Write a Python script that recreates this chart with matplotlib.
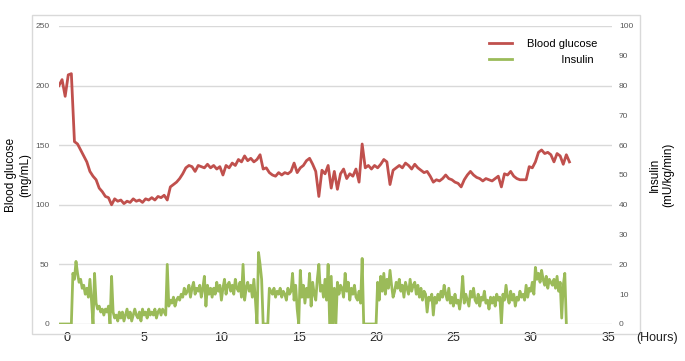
import matplotlib
matplotlib.use("Agg")
from matplotlib import pyplot as plt
from matplotlib.patches import Rectangle
import numpy as np

plt.rcParams["font.family"] = ["Liberation Sans", "DejaVu Sans"]

# blood glucose (mg/mL), one reading every 0.2 h starting at -0.5 h
glucose = [
    200, 205, 191, 209, 210, 153, 151, 146, 141, 136,
    128, 124, 121, 114, 111, 107, 106, 100, 105, 103,
    104, 101, 103, 102, 105, 103, 104, 102, 105, 104,
    106, 104, 107, 106, 108, 104, 115, 117, 119, 122,
    126, 131, 133, 132, 128, 133, 132, 131, 134, 131,
    133, 130, 132, 125, 133, 131, 135, 133, 138, 136,
    141, 137, 139, 136, 138, 142, 130, 131, 127, 125,
    124, 127, 125, 127, 126, 128, 135, 127, 131, 133,
    137, 139, 134, 128, 107, 129, 126, 133, 114, 128,
    113, 126, 130, 122, 126, 124, 130, 119, 151, 131,
    133, 130, 133, 131, 134, 138, 136, 117, 129, 131,
    133, 131, 135, 133, 130, 134, 131, 129, 127, 128,
    124, 119, 121, 120, 122, 125, 122, 121, 119, 118,
    115, 121, 125, 128, 125, 123, 122, 120, 122, 121,
    120, 122, 124, 115, 126, 125, 128, 124, 122, 121,
    121, 121, 132, 131, 136, 144, 146, 143, 144, 142,
    136, 143, 141, 134, 142, 136,
]

# insulin (mU/kg/min), one reading every 0.1 h starting at -0.5 h
insulin = [
    0, 0, 0, 0, 0, 0, 0, 0, 0, 17,
    15, 21, 17, 14, 15, 12, 13, 10, 12, 9,
    15, 8, 0, 17, 7, 5, 6, 4, 5, 3,
    5, 4, 6, 0, 16, 4, 2, 3, 1, 4,
    2, 4, 1, 3, 5, 2, 4, 1, 3, 5,
    3, 2, 4, 1, 5, 3, 4, 2, 5, 3,
    4, 3, 5, 2, 4, 5, 3, 5, 4, 3,
    20, 6, 8, 7, 9, 6, 8, 9, 8, 10,
    9, 12, 10, 11, 13, 9, 12, 14, 10, 12,
    11, 13, 9, 12, 16, 6, 13, 10, 12, 9,
    12, 10, 14, 11, 13, 8, 12, 15, 10, 13,
    14, 11, 13, 10, 15, 12, 11, 14, 9, 20,
    8, 12, 14, 11, 13, 9, 15, 8, 0, 24,
    20, 15, 0, 0, 0, 0, 12, 11, 10, 12,
    9, 11, 10, 12, 9, 11, 10, 8, 12, 10,
    11, 17, 8, 13, 5, 0, 18, 9, 13, 7,
    12, 9, 17, 6, 14, 10, 8, 15, 20, 11,
    13, 9, 15, 8, 20, 0, 16, 0, 12, 0,
    14, 10, 13, 12, 9, 17, 11, 14, 8, 12,
    10, 13, 9, 8, 11, 7, 22, 0, 0, 0,
    0, 0, 0, 0, 0, 0, 14, 8, 16, 11,
    17, 10, 15, 12, 18, 13, 9, 11, 14, 12,
    15, 11, 13, 9, 14, 12, 10, 15, 11, 13,
    14, 10, 13, 9, 12, 8, 11, 10, 4, 9,
    8, 10, 3, 9, 7, 10, 8, 11, 9, 13,
    10, 8, 12, 7, 9, 6, 10, 7, 8, 5,
    9, 16, 7, 10, 8, 6, 11, 9, 12, 8,
    7, 10, 6, 9, 8, 11, 7, 8, 5, 9,
    7, 9, 6, 10, 8, 9, 0, 10, 8, 13,
    9, 7, 11, 8, 10, 6, 9, 8, 11, 9,
    10, 8, 13, 9, 12, 11, 14, 10, 19, 15,
    17, 14, 18, 15, 13, 16, 12, 15, 14, 13,
    15, 12, 16, 11, 14, 2, 13, 17, 0,
]

glucose_hours = -0.5 + 0.2 * np.arange(len(glucose))
insulin_hours = -0.5 + 0.1 * np.arange(len(insulin))

red = "#C0504D"
green = "#9BBB59"
grid_col = "#D9D9D9"
tick_col = "#595959"

fig = plt.figure(figsize=(6.85, 3.61), dpi=100)
fig.patches.append(Rectangle((0.0467, 0.0748), 0.8876, 0.8837, transform=fig.transFigure,
                             fill=False, edgecolor=grid_col, linewidth=1.0))

ax = fig.add_axes([0.0861, 0.1025, 0.8073, 0.8255])
ax2 = ax.twinx()

l1, = ax.plot(glucose_hours, glucose, color=red, lw=2.0, label="Blood glucose")
l2, = ax2.plot(insulin_hours, insulin, color=green, lw=2.0, label="           Insulin")

ax.set_xlim(-0.5, 35.25)
ax.set_ylim(0, 250)
ax2.set_ylim(0, 100)
ax.set_yticks(np.arange(0, 251, 50))
ax2.set_yticks(np.arange(0, 101, 10))
ax.set_xticks(np.arange(0, 36, 5))

ax.grid(axis="y", color=grid_col, lw=1.0)
ax.set_axisbelow(True)
for a in (ax, ax2):
    for s in a.spines.values():
        s.set_visible(False)

ax.tick_params(axis="y", length=0, pad=7, labelsize=6, labelcolor=tick_col)
ax2.tick_params(axis="y", length=0, pad=5, labelsize=6, labelcolor=tick_col)
ax.tick_params(axis="x", length=0, pad=6, labelsize=9, labelcolor="#222222")

ax.set_ylabel("Blood glucose\n(mg/mL)", fontsize=8.5, labelpad=3)
ax2.set_ylabel("Insulin\n(mU/kg/min)", fontsize=8.5, labelpad=11)
fig.text(657 / 685, 1 - 338 / 361, "(Hours)", fontsize=9, ha="center", va="center", color="#222222")

ax2.legend(handles=[l1, l2], loc="upper right", bbox_to_anchor=(603 / 685, 1 - 33 / 361),
           bbox_transform=fig.transFigure, frameon=False, fontsize=8,
           handlelength=2.0, handletextpad=1.4, labelspacing=0.55, borderpad=0)

fig.savefig("out.png", dpi=100)
